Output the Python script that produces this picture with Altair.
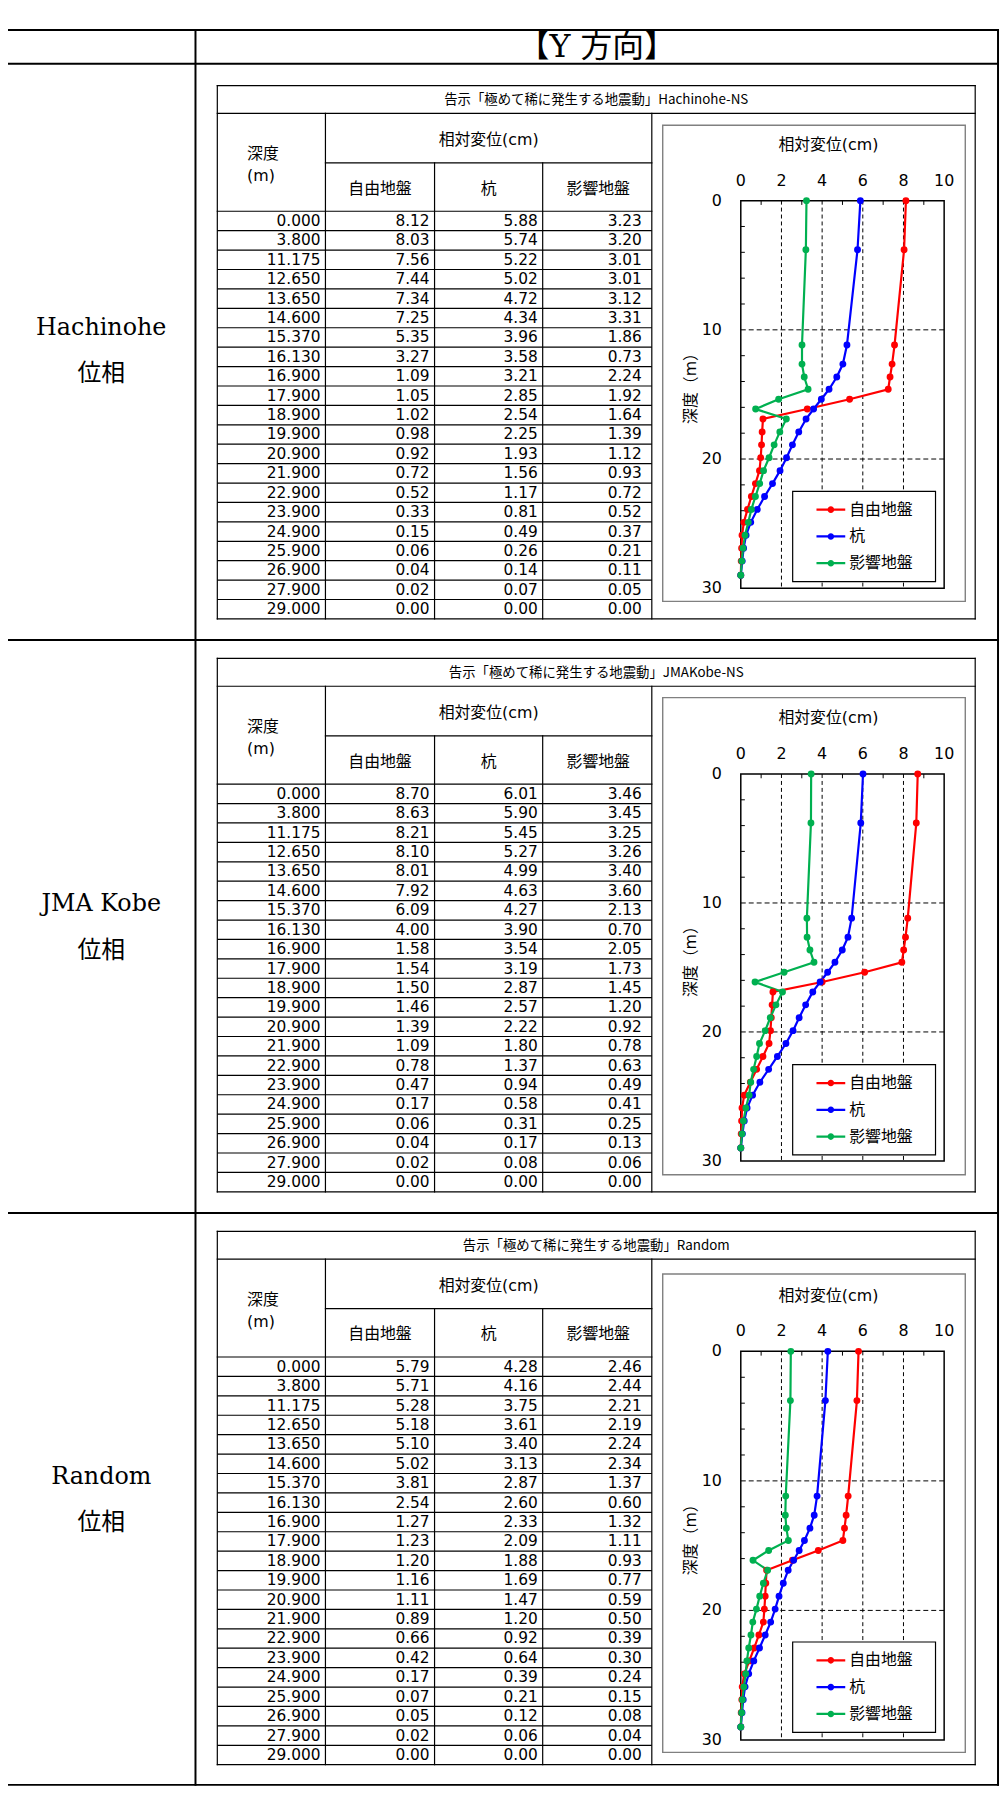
import altair as alt
import pandas as pd

# ---------------- data ----------------
depth_m = [0.000, 3.800, 11.175, 12.650, 13.650, 14.600, 15.370, 16.130, 16.900,
           17.900, 18.900, 19.900, 20.900, 21.900, 22.900, 23.900, 24.900,
           25.900, 26.900, 27.900, 29.000]

series_names = ["自由地盤", "杭", "影響地盤"]
series_colors = ["#FF0000", "#0000FF", "#00B050"]

hachinohe_free = [8.12, 8.03, 7.56, 7.44, 7.34, 7.25, 5.35, 3.27, 1.09, 1.05, 1.02,
                  0.98, 0.92, 0.72, 0.52, 0.33, 0.15, 0.06, 0.04, 0.02, 0.00]
hachinohe_pile = [5.88, 5.74, 5.22, 5.02, 4.72, 4.34, 3.96, 3.58, 3.21, 2.85, 2.54,
                  2.25, 1.93, 1.56, 1.17, 0.81, 0.49, 0.26, 0.14, 0.07, 0.00]
hachinohe_infl = [3.23, 3.20, 3.01, 3.01, 3.12, 3.31, 1.86, 0.73, 2.24, 1.92, 1.64,
                  1.39, 1.12, 0.93, 0.72, 0.52, 0.37, 0.21, 0.11, 0.05, 0.00]

kobe_free = [8.70, 8.63, 8.21, 8.10, 8.01, 7.92, 6.09, 4.00, 1.58, 1.54, 1.50,
             1.46, 1.39, 1.09, 0.78, 0.47, 0.17, 0.06, 0.04, 0.02, 0.00]
kobe_pile = [6.01, 5.90, 5.45, 5.27, 4.99, 4.63, 4.27, 3.90, 3.54, 3.19, 2.87,
             2.57, 2.22, 1.80, 1.37, 0.94, 0.58, 0.31, 0.17, 0.08, 0.00]
kobe_infl = [3.46, 3.45, 3.25, 3.26, 3.40, 3.60, 2.13, 0.70, 2.05, 1.73, 1.45,
             1.20, 0.92, 0.78, 0.63, 0.49, 0.41, 0.25, 0.13, 0.06, 0.00]

random_free = [5.79, 5.71, 5.28, 5.18, 5.10, 5.02, 3.81, 2.54, 1.27, 1.23, 1.20,
               1.16, 1.11, 0.89, 0.66, 0.42, 0.17, 0.07, 0.05, 0.02, 0.00]
random_pile = [4.28, 4.16, 3.75, 3.61, 3.40, 3.13, 2.87, 2.60, 2.33, 2.09, 1.88,
               1.69, 1.47, 1.20, 0.92, 0.64, 0.39, 0.21, 0.12, 0.06, 0.00]
random_infl = [2.46, 2.44, 2.21, 2.19, 2.24, 2.34, 1.37, 0.60, 1.32, 1.11, 0.93,
               0.77, 0.59, 0.50, 0.39, 0.30, 0.24, 0.15, 0.08, 0.04, 0.00]

panel_values = [
    [hachinohe_free, hachinohe_pile, hachinohe_infl],
    [kobe_free, kobe_pile, kobe_infl],
    [random_free, random_pile, random_infl],
]
panel_titles = ["告示「極めて稀に発生する地震動」Hachinohe-NS",
                "告示「極めて稀に発生する地震動」JMAKobe-NS",
                "告示「極めて稀に発生する地震動」Random"]
row_label_main = ["Hachinohe", "JMA Kobe", "Random"]
row_label_sub = ["位相", "位相", "位相"]
header_label = "【Y 方向】"
disp_head = "相対変位(cm)"
depth_head = ["深度", "(m)"]
axis_title_x = "相対変位(cm)"
axis_title_y = "深度（m）"
x_tick_values = [0, 2, 4, 6, 8, 10]
y_tick_values = [0, 10, 20, 30]
x_grid_values = [2, 4, 6, 8]
y_grid_values = [10, 20]
x_minor_values = [1, 3, 5, 7, 9]
y_minor_values = [2, 4, 6, 8, 12, 14, 16, 18, 22, 24, 26, 28]

# ---------------- layout (page pixels) ----------------
OX, OY, W, H = 8, 8, 1000, 1785
SANS = "DejaVu Sans, Noto Sans CJK JP"
CJK = "Noto Sans CJK JP"
SERIF = "DejaVu Serif, Noto Sans CJK JP"

outer_h = [23, 57, 638, 1215.5, 1792]
outer_v = [7, 197, 1006]
row_tops = [57, 638, 1215.5]
table_tops = [79, 656.5, 1234]
col_x = [219, 328, 438, 547, 657]
num_right = [323, 433, 542, 647]
tbl_right = 983
TITLE_H, HEAD_MID, DATA_OFF, ROW_H = 28, 78, 126.7, 19.57
plot_x = (746.7, 951.7)
plot_y = [(195, 585.7), (773, 1163), (1355, 1746.7)]
box_x = (668, 973)
box_y = [(119, 599), (696, 1177), (1277, 1759.3)]


def LX():
    return alt.Scale(domain=[OX, OX + W], range=[0, W], nice=False, zero=False)


def LY():
    return alt.Scale(domain=[OY, OY + H], range=[0, H], nice=False, zero=False)


def rules(rows, width, color="black", cap="butt"):
    df = pd.DataFrame(rows, columns=["x", "x2", "y", "y2"])
    return alt.Chart(df).mark_rule(color=color, strokeWidth=width, strokeCap=cap).encode(
        x=alt.X("x:Q", scale=LX(), axis=None), x2="x2:Q",
        y=alt.Y("y:Q", scale=LY(), axis=None), y2="y2:Q")


def rects(rows, stroke, width, fill=None):
    df = pd.DataFrame(rows, columns=["x", "x2", "y", "y2"])
    if fill:
        mk = alt.Chart(df).mark_rect(fill=fill, stroke=stroke, strokeWidth=width)
    else:
        mk = alt.Chart(df).mark_rect(filled=False, color=stroke, strokeWidth=width)
    return mk.encode(
        x=alt.X("x:Q", scale=LX(), axis=None), x2="x2:Q",
        y=alt.Y("y:Q", scale=LY(), axis=None), y2="y2:Q")


def texts(rows, font, size, align, angle=0):
    df = pd.DataFrame(rows, columns=["x", "y", "t"])
    return alt.Chart(df).mark_text(font=font, fontSize=size, align=align, angle=angle,
                                   baseline="middle", color="black").encode(
        x=alt.X("x:Q", scale=LX(), axis=None),
        y=alt.Y("y:Q", scale=LY(), axis=None),
        text="t:N")


# outer table lines
outer_rows = [(outer_v[0], outer_v[-1], yy, yy) for yy in outer_h] + \
             [(xx, xx, outer_h[0], outer_h[-1]) for xx in outer_v]

frame_rows, data_rows = [], []
title_txt, head_left, head_center, num_txt = [], [], [], []
chart_titles, chart_ytitles = [], []
for p in range(3):
    T = table_tops[p]
    Tt, Th, D = T + TITLE_H, T + HEAD_MID, T + DATA_OFF
    B = D + 21 * ROW_H
    xL, xD, x1, x2, x3 = col_x
    frame_rows += [(xL, tbl_right, T, T), (xL, tbl_right, Tt, Tt), (xD, x3, Th, Th),
                   (xL, x3, D, D), (xL, tbl_right, B, B),
                   (xL, xL, T, B), (tbl_right, tbl_right, T, B), (xD, xD, Tt, B),
                   (x1, x1, Th, B), (x2, x2, Th, B), (x3, x3, Tt, B)]
    for k in range(1, 21):
        data_rows.append((xL, x3, D + k * ROW_H, D + k * ROW_H))
    title_txt.append(((xL + tbl_right) / 2, T + 14.5, panel_titles[p]))
    head_left += [(249, T + 69, depth_head[0]), (249, T + 91, depth_head[1])]
    head_center += [((xD + x3) / 2, T + 55, disp_head),
                    ((xD + x1) / 2, T + 104, series_names[0]),
                    ((x1 + x2) / 2, T + 104, series_names[1]),
                    ((x2 + x3) / 2 + 1, T + 104, series_names[2])]
    vals = panel_values[p]
    for i, d in enumerate(depth_m):
        yc = D + (i + 0.5) * ROW_H
        num_txt.append((num_right[0], yc, f"{d:.3f}"))
        for s in range(3):
            num_txt.append((num_right[s + 1], yc, f"{vals[s][i]:.2f}"))
    y0, y30 = plot_y[p]
    chart_titles.append((835, y0 - 56, axis_title_x))
    chart_ytitles.append((697, (y0 + y30) / 2 - 10, axis_title_y))

box_rows = [(box_x[0], box_x[1], box_y[p][0], box_y[p][1]) for p in range(3)]

base_layers = [
    rects(box_rows, "#808080", 1.4),
    rules(data_rows, 1.2),
    rules(frame_rows, 1.2, cap="square"),
    rules(outer_rows, 2, cap="square"),
    texts([((outer_v[1] + outer_v[2]) / 2, 40, header_label)], SERIF, 32, "center"),
    texts([((outer_v[0] + outer_v[1]) / 2, row_tops[p] + 266, row_label_main[p]) for p in range(3)],
          SERIF, 24, "center"),
    texts([((outer_v[0] + outer_v[1]) / 2, row_tops[p] + 313, row_label_sub[p]) for p in range(3)],
          SERIF, 24, "center"),
    texts(title_txt, CJK, 13.5, "center"),
    texts(head_left, SANS, 16, "left"),
    texts(head_center, SANS, 16, "center"),
    texts(num_txt, "DejaVu Sans", 15.5, "right"),
    texts(chart_titles, SANS, 16, "center"),
    texts(chart_ytitles, SANS, 16, "center", angle=270),
]
base = alt.layer(*base_layers)

SYMBOL = ("M-1,-0.08L1,-0.08L1,0.08L-1,0.08Z "
          "M0.23,0A0.23,0.23,0,1,1,-0.23,0A0.23,0.23,0,1,1,0.23,0Z")


def panel(p):
    y0, y30 = plot_y[p]
    xs = alt.Scale(domain=[0, 10], range=[plot_x[0] - OX, plot_x[1] - OX], nice=False, zero=False)
    ys = alt.Scale(domain=[0, 30], range=[y0 - OY, y30 - OY], nice=False, zero=False)

    def X(f):
        return alt.X(f, scale=xs, axis=None)

    def Y(f):
        return alt.Y(f, scale=ys, axis=None)

    gv = alt.Chart(pd.DataFrame({"gx": x_grid_values, "a": 0, "b": 30})).mark_rule(
        color="black", strokeWidth=1, strokeDash=[4, 3]).encode(x=X("gx:Q"), y=Y("a:Q"), y2="b:Q")
    gh = alt.Chart(pd.DataFrame({"gy": y_grid_values, "a": 0, "b": 10})).mark_rule(
        color="black", strokeWidth=1, strokeDash=[5, 3]).encode(y=Y("gy:Q"), x=X("a:Q"), x2="b:Q")
    mt = alt.Chart(pd.DataFrame({"mx": x_minor_values, "a": 0, "b": 0.33})).mark_rule(
        color="black", strokeWidth=1).encode(x=X("mx:Q"), y=Y("a:Q"), y2="b:Q")
    ml = alt.Chart(pd.DataFrame({"my": y_minor_values, "a": 0, "b": 0.2})).mark_rule(
        color="black", strokeWidth=1).encode(y=Y("my:Q"), x=X("a:Q"), x2="b:Q")
    frame = alt.Chart(pd.DataFrame({"fx0": [0], "fx1": [10], "fy0": [0], "fy1": [30]})).mark_rect(
        filled=False, color="black", strokeWidth=1.5).encode(
        x=X("fx0:Q"), x2="fx1:Q", y=Y("fy0:Q"), y2="fy1:Q")
    # tick labels bound to the panel scales
    xlab = alt.Chart(pd.DataFrame({"v": x_tick_values, "z": 0})).mark_text(
        font="DejaVu Sans", fontSize=16, align="center", baseline="middle",
        color="black", dy=-20).encode(x=X("v:Q"), y=Y("z:Q"), text=alt.Text("v:Q", format="d"))
    ylab = alt.Chart(pd.DataFrame({"v": y_tick_values, "z": 0})).mark_text(
        font="DejaVu Sans", fontSize=16, align="right", baseline="middle",
        color="black", dx=-19).encode(x=X("z:Q"), y=Y("v:Q"), text=alt.Text("v:Q", format="d"))

    layers = [gv, gh, mt, ml, frame, xlab, ylab]
    long_rows = []
    for s in range(3):
        df = pd.DataFrame({"depth": depth_m, "value": panel_values[p][s]})
        layers.append(alt.Chart(df).mark_line(color=series_colors[s], strokeWidth=2.2).encode(
            x=X("value:Q"), y=Y("depth:Q"), order=alt.Order("depth:Q")))
        for d, v in zip(depth_m, panel_values[p][s]):
            long_rows.append({"depth": d, "value": v, "series": series_names[s]})
    pts = alt.Chart(pd.DataFrame(long_rows)).mark_circle(size=48, opacity=1).encode(
        x=X("value:Q"), y=Y("depth:Q"),
        fill=alt.Fill("series:N",
                      scale=alt.Scale(domain=series_names, range=series_colors),
                      legend=alt.Legend(orient="none", legendX=823 - OX,
                                        legendY=y0 + 305 - 8 - OY, title=None,
                                        symbolType=SYMBOL, symbolSize=841,
                                        symbolStrokeWidth=0, symbolOpacity=1,
                                        labelFont=SANS, labelFontSize=16, labelColor="black",
                                        labelOffset=4, rowPadding=4, padding=0,
                                        symbolOffset=0)))
    layers.append(pts)
    return alt.layer(*layers)


legend_boxes = rects([(799, 943, plot_y[p][0] + 293, plot_y[p][0] + 384) for p in range(3)],
                     "black", 1.2, fill="white")

chart = alt.layer(base, panel(0), panel(1), panel(2), legend_boxes).resolve_scale(
    x="independent", y="independent", fill="independent"
).properties(
    width=W, height=H, padding=0, background="white",
    autosize=alt.AutoSizeParams(type="none")
).configure_view(strokeWidth=0)

chart.save("out.html", embed_options={"renderer": "svg", "actions": False})
